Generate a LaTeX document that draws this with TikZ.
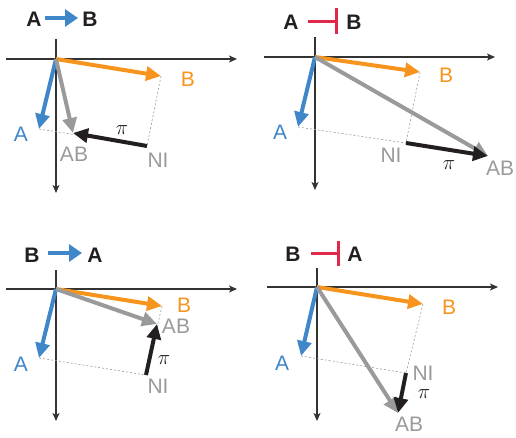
\documentclass[tikz,border=0pt]{standalone}
\usepackage{fontspec}
\setmainfont{Liberation Sans}
\usetikzlibrary{arrows.meta}
\definecolor{cblue}{HTML}{3F87C8}
\definecolor{corange}{HTML}{F7941D}
\definecolor{cgray}{HTML}{9A9A9A}
\definecolor{cred}{HTML}{E0284A}
\definecolor{cblack}{HTML}{231F20}
\definecolor{caxis}{HTML}{333333}
\begin{document}
\begin{tikzpicture}[x=1pt,y=-1pt,
  axis/.style={line width=1.2pt, caxis, -{Stealth[length=8pt,width=7pt,inset=2pt]}},
  vec/.style={line width=4pt, -{Triangle[length=15pt,width=14pt]}},
  guide/.style={cgray, line width=0.6pt, dash pattern=on 2pt off 2pt},
  lbl/.style={font=\fontsize{21}{23}\selectfont, inner sep=0pt},
  pilbl/.style={font=\fontsize{22}{24}\selectfont, inner sep=0pt, text=cblack},
  ttl/.style={font=\fontsize{21}{23}\selectfont\bfseries, inner sep=0pt, text=cblack},
  act/.style={line width=4.5pt, cblue, -{Triangle[length=13pt,width=17pt]}},
  inh/.style={line width=3pt, cred},
]
\useasboundingbox (0,0) rectangle (516,437);

% ---------- Panel 1: A -> B
\node[ttl] (t1a) at (34,19) {A};
\node[ttl] (t1b) at (90,19) {B};
\coordinate (t1s) at (45,18); \coordinate (t1e) at (78,18);
\draw[act] (t1s) -- (t1e);
\coordinate (o1) at (56,59);
\coordinate (x1l) at (6,59); \coordinate (x1r) at (237,59);
\coordinate (y1t) at (56,39); \coordinate (y1b) at (56,193);
\draw[axis] (x1l) -- (x1r);
\draw[axis] (y1t) -- (y1b);
\coordinate (b1) at (161,76);
\coordinate (a1) at (39,129);
\coordinate (ab1) at (73,133);
\coordinate (ni1) at (147,146);
\draw[guide] (a1) -- (ni1);
\draw[guide] (b1) -- (ni1);
\draw[vec, corange] (o1) -- (b1);
\draw[vec, cblue] (o1) -- (a1);
\draw[vec, cgray] (o1) -- (ab1);
\draw[vec, cblack] (ni1) -- (ab1);
\node[lbl, text=corange] (lb1) at (188,79) {B};
\node[lbl, text=cblue] (la1) at (21,134) {A};
\node[lbl, text=cgray] (lab1) at (74,154) {AB};
\node[lbl, text=cgray] (lni1) at (158,160) {NI};
\node[pilbl] (lpi1) at (122,130) {$\pi$};

% ---------- Panel 2: A -| B
\node[ttl] (t2a) at (291,22) {A};
\node[ttl] (t2b) at (354,22) {B};
\coordinate (t2s) at (308,21); \coordinate (t2e) at (336,21);
\coordinate (t2u) at (336,8); \coordinate (t2d) at (336,34);
\draw[inh] (t2s) -- (t2e);
\draw[inh] (t2u) -- (t2d);
\coordinate (o2) at (315,57);
\coordinate (x2l) at (264,57); \coordinate (x2r) at (495,57);
\coordinate (y2t) at (315,37); \coordinate (y2b) at (315,190);
\draw[axis] (x2l) -- (x2r);
\draw[axis] (y2t) -- (y2b);
\coordinate (b2) at (420,72);
\coordinate (a2) at (298,127);
\coordinate (ni2) at (406,143);
\coordinate (ab2) at (488,156);
\draw[guide] (a2) -- (ni2);
\draw[guide] (b2) -- (ni2);
\draw[vec, corange] (o2) -- (b2);
\draw[vec, cblue] (o2) -- (a2);
\draw[vec, cgray] (o2) -- (ab2);
\draw[vec, cblack] (ni2) -- (ab2);
\node[lbl, text=corange] (lb2) at (446,75) {B};
\node[lbl, text=cblue] (la2) at (280,132) {A};
\node[lbl, text=cgray] (lni2) at (391,155) {NI};
\node[lbl, text=cgray] (lab2) at (500,168) {AB};
\node[pilbl] (lpi2) at (449,165) {$\pi$};

% ---------- Panel 3: B -> A
\node[ttl] (t3b) at (32,255) {B};
\node[ttl] (t3a) at (95,255) {A};
\coordinate (t3s) at (48,253); \coordinate (t3e) at (82,253);
\draw[act] (t3s) -- (t3e);
\coordinate (o3) at (56,289);
\coordinate (x3l) at (6,289); \coordinate (x3r) at (237,289);
\coordinate (y3t) at (56,270); \coordinate (y3b) at (56,421);
\draw[axis] (x3l) -- (x3r);
\draw[axis] (y3t) -- (y3b);
\coordinate (b3) at (162,306);
\coordinate (ab3) at (157,324);
\coordinate (a3) at (39,358);
\coordinate (ni3) at (146,375);
\draw[guide] (a3) -- (ni3);
\draw[guide] (b3) -- (ni3);
\draw[vec, corange] (o3) -- (b3);
\draw[vec, cblue] (o3) -- (a3);
\draw[vec, cgray] (o3) -- (ab3);
\draw[vec, cblack] (ni3) -- (ab3);
\node[lbl, text=corange] (lb3) at (184,305) {B};
\node[lbl, text=cgray] (lab3) at (176,326) {AB};
\node[lbl, text=cblue] (la3) at (21,364) {A};
\node[lbl, text=cgray] (lni3) at (158,386) {NI};
\node[pilbl] (lpi3) at (164,360) {$\pi$};

% ---------- Panel 4: B -| A
\node[ttl] (t4b) at (293,254) {B};
\node[ttl] (t4a) at (355,254) {A};
\coordinate (t4s) at (311,253); \coordinate (t4e) at (338,253);
\coordinate (t4u) at (338,241); \coordinate (t4d) at (338,266);
\draw[inh] (t4s) -- (t4e);
\draw[inh] (t4u) -- (t4d);
\coordinate (o4) at (317,287);
\coordinate (x4l) at (267,287); \coordinate (x4r) at (498,287);
\coordinate (y4t) at (317,268); \coordinate (y4b) at (317,421);
\draw[axis] (x4l) -- (x4r);
\draw[axis] (y4t) -- (y4b);
\coordinate (b4) at (423,304);
\coordinate (a4) at (301,356);
\coordinate (ni4) at (406,373);
\coordinate (ab4) at (398,413);
\draw[guide] (a4) -- (ni4);
\draw[guide] (b4) -- (ni4);
\draw[vec, corange] (o4) -- (b4);
\draw[vec, cblue] (o4) -- (a4);
\draw[vec, cgray] (o4) -- (ab4);
\draw[vec, cblack] (ni4) -- (ab4);
\node[lbl, text=corange] (lb4) at (449,307) {B};
\node[lbl, text=cblue] (la4) at (282,363) {A};
\node[lbl, text=cgray] (lni4) at (423,373) {NI};
\node[lbl, text=cgray] (lab4) at (409,424) {AB};
\node[pilbl] (lpi4) at (424,394) {$\pi$};
\end{tikzpicture}
\end{document}
